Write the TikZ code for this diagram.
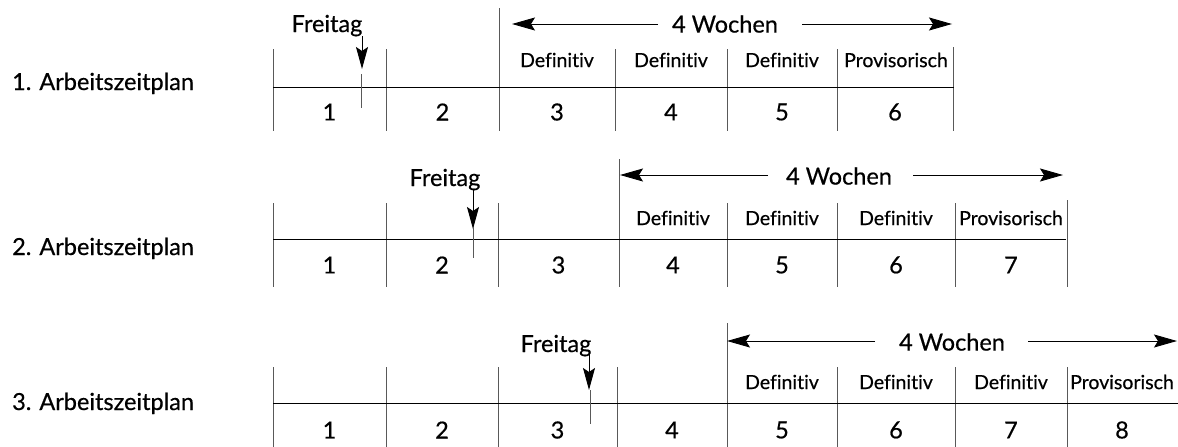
\documentclass[tikz,border=0pt]{standalone}
\usepackage{fontspec}
\setmainfont{Lato}[Ligatures=NoCommon, FakeBold=0.5]
\usetikzlibrary{arrows.meta}
\begin{document}
\begin{tikzpicture}[x=1pt,y=-1pt,
  big/.style={font=\fontsize{23.5}{28}\selectfont, inner sep=0pt},
  small/.style={font=\fontsize{19.5}{23}\selectfont, inner sep=0pt},
  cell/.style={draw=black!65, line width=1pt},
  axis/.style={draw=black, line width=1pt},
  span/.style={draw=black, line width=0.9pt, -{Stealth[length=23pt,width=13pt,inset=4pt]}},
  fri/.style={draw=black, line width=1pt, -{Stealth[length=22pt,width=12pt,inset=4pt]}},
]
\useasboundingbox (0,0) rectangle (1178,447);

% ---------- Row 1 ----------
\node[big, anchor=base west] (l1) at (12,90) {1. Arbeitszeitplan};
\foreach \x/\t in {273/49,386/49,499/8,615/49,727/49,837/49,953/47}
  \draw[cell] (\x,\t) -- (\x,131);
\coordinate (h1a) at (273,87); \coordinate (h1b) at (954,87);
\draw[axis] (h1a) -- (h1b);
\foreach \x/\n in {329.5/1,442.5/2,557/3,671/4,782/5,895/6}
  \node[big] (a\n) at (\x,112) {\n};
\foreach \x/\n in {557/3,671/4,782/5}
  \node[small] (ad\n) at (\x,60) {Definitiv};
\node[small] (ad6) at (896,60) {Provisorisch};
\node[big, anchor=base] (af) at (327,32) {Freitag};
\coordinate (af1) at (362,36); \coordinate (af2) at (362,69);
\draw[fri] (af1) -- (af2);
\coordinate (at1) at (361,74); \coordinate (at2) at (361,108);
\draw[cell] (at1) -- (at2);
\node[big] (aw) at (725,24) {4 Wochen};
\coordinate (awl0) at (658,24); \coordinate (awl) at (512,24);
\coordinate (awr0) at (802,24); \coordinate (awr) at (952,24);
\draw[span] (awl0) -- (awl);
\draw[span] (awr0) -- (awr);

% ---------- Row 2 ----------
\node[big, anchor=base west] (l2) at (12,255) {2. Arbeitszeitplan};
\foreach \x/\t in {273/203,386/203,498/203,619/159,727/203,837/203,955/203,1067/200}
  \draw[cell] (\x,\t) -- (\x,287);
\coordinate (h2a) at (273,239); \coordinate (h2b) at (1066,239);
\draw[axis] (h2a) -- (h2b);
\foreach \x/\n in {329.5/1,442/2,558.5/3,673/4,782/5,896/6,1011/7}
  \node[big] (b\n) at (\x,265) {\n};
\foreach \x/\n in {673/4,782/5,896/6}
  \node[small] (bd\n) at (\x,218) {Definitiv};
\node[small] (bd7) at (1011,218) {Provisorisch};
\node[big, anchor=base] (bf) at (445,186) {Freitag};
\coordinate (bf1) at (473,189); \coordinate (bf2) at (473,229);
\draw[fri] (bf1) -- (bf2);
\coordinate (bt1) at (473,227); \coordinate (bt2) at (473,258);
\draw[cell] (bt1) -- (bt2);
\node[big] (bw) at (839,176) {4 Wochen};
\coordinate (bwl0) at (768,175); \coordinate (bwl) at (620,175);
\coordinate (bwr0) at (913,175); \coordinate (bwr) at (1063,175);
\draw[span] (bwl0) -- (bwl);
\draw[span] (bwr0) -- (bwr);

% ---------- Row 3 ----------
\node[big, anchor=base west] (l3) at (12,410) {3. Arbeitszeitplan};
\foreach \x/\t in {273/367,386/367,498/367,617/367,727/323,837/367,955/367,1067/367}
  \draw[cell] (\x,\t) -- (\x,447);
\coordinate (h3a) at (273,403); \coordinate (h3b) at (1178,403);
\draw[axis] (h3a) -- (h3b);
\foreach \x/\n in {329.5/1,442/2,557.5/3,672/4,782/5,896/6,1011/7,1122/8}
  \node[big] (c\n) at (\x,430) {\n};
\foreach \x/\n in {782/5,896/6,1011/7}
  \node[small] (cd\n) at (\x,382) {Definitiv};
\node[small] (cd8) at (1122,382) {Provisorisch};
\node[big, anchor=base] (cf) at (556,352) {Freitag};
\coordinate (cf1) at (589,354); \coordinate (cf2) at (589,390);
\draw[fri] (cf1) -- (cf2);
\coordinate (ct1) at (590,390); \coordinate (ct2) at (590,424);
\draw[cell] (ct1) -- (ct2);
\node[big] (cw) at (952,342) {4 Wochen};
\coordinate (cwl0) at (875,341); \coordinate (cwl) at (727,341);
\coordinate (cwr0) at (1028,341); \coordinate (cwr) at (1177,341);
\draw[span] (cwl0) -- (cwl);
\draw[span] (cwr0) -- (cwr);
\end{tikzpicture}
\end{document}
